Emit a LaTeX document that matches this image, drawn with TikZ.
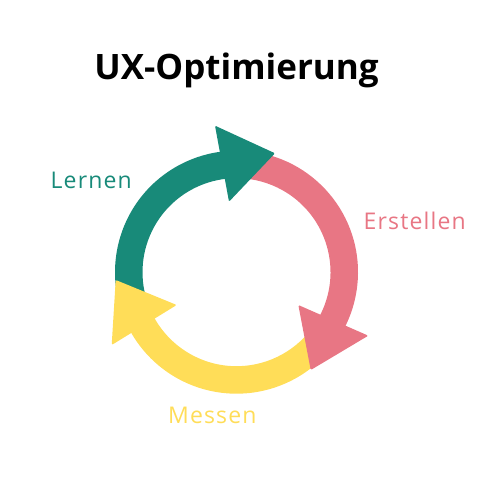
\documentclass[tikz,border=0pt]{standalone}
\usepackage{fontspec}
\setmainfont{Open Sans}
\newfontfamily\phasefont[LetterSpace=5]{Open Sans}
\usepackage{xcolor}
\usepackage{tikz}
\definecolor{lernteal}{RGB}{24,138,121}
\definecolor{erstrosa}{RGB}{232,118,132}
\definecolor{messgelb}{RGB}{255,221,88}

\begin{document}
\begin{tikzpicture}[
  x=1pt, y=1pt,
  band/.style={fill=#1},
  head/.style={fill=#1, rounded corners=1.2pt},
  titel/.style={font=\fontsize{35}{40}\selectfont\bfseries, anchor=base},
  phase/.style={font=\phasefont\fontsize{23}{27}\selectfont, anchor=base, text=#1}
]
\useasboundingbox (0,0) rectangle (500,500);
\node[titel] (title) at (236.5,420) {UX-Optimierung};
\node[phase=lernteal] (lernen) at (91.2,311.7) {Lernen};
\node[phase=erstrosa] (erstellen) at (414.7,270) {Erstellen};
\node[phase=messgelb] (messen) at (212.3,76.7) {Messen};

\begin{scope}[shift={(236.5,227.8)}]
\path[band=lernteal] (200:121.5) arc[start angle=200, end angle=95, radius=121.5]
  -- (95:94) arc[start angle=95, end angle=200, radius=94] -- cycle;
\path[band=erstrosa] (88:121.5) arc[start angle=88, end angle=-29, radius=121.5]
  -- (-29:94) arc[start angle=-29, end angle=88, radius=94] -- cycle;
\path[band=messgelb] (-37:121.5) arc[start angle=-37, end angle=-152, radius=121.5]
  -- (-152:94) arc[start angle=-152, end angle=-37, radius=94] -- cycle;
\path[head=lernteal] (98.35:148.1) -- (72.06:125) -- (96.07:70.9) -- cycle;
\path[head=erstrosa] (-25.72:146.3) -- (-52.82:122.8) -- (-27.96:70) -- cycle;
\path[head=messgelb] (210.26:144.5) -- (183.69:121.05) -- (208.74:68.2) -- cycle;
\end{scope}
\end{tikzpicture}
\end{document}
